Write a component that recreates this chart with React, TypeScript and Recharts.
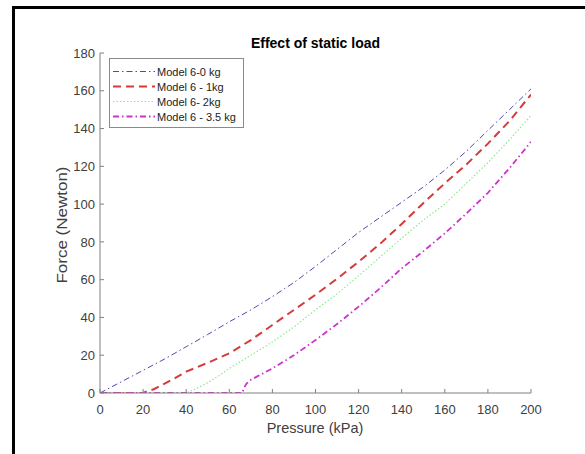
import React from 'react';
import { LineChart, Line, XAxis, YAxis } from 'recharts';

const xTicks = [0, 20, 40, 60, 80, 100, 120, 140, 160, 180, 200];
const yTicks = [0, 20, 40, 60, 80, 100, 120, 140, 160, 180];

const seriesNames = ['Model 6-0 kg', 'Model 6 - 1kg', 'Model 6- 2kg', 'Model 6 - 3.5 kg'];

const p0kg = [0, 10, 20, 30, 40, 50, 60, 70, 80, 90, 100, 110, 120, 130, 140, 150, 160, 170, 180, 190, 200];
const f0kg = [0, 6, 12, 18, 24.5, 31, 37.7, 44, 51, 58.5, 67, 76, 85, 93, 101, 109, 118, 128, 139, 150, 161];

const p1kg = [0, 20, 22, 25, 30, 35, 40, 50, 60, 70, 80, 90, 100, 110, 120, 130, 140, 150, 160, 170, 180, 190, 200];
const f1kg = [0, 0, 1, 2, 5, 8, 11.3, 16, 21, 28, 36, 44, 52, 60.5, 69.5, 79, 89.5, 100.5, 111, 121, 132, 144, 158];

const p2kg = [0, 40, 45, 50, 55, 60, 70, 80, 90, 100, 110, 120, 130, 140, 150, 160, 170, 180, 190, 200];
const f2kg = [0, 0, 2.5, 5.5, 9, 13, 20, 27, 35, 44, 52.5, 62, 72, 82, 91.5, 100, 111, 122, 134, 147];

const p35kg = [0, 66, 67, 68, 70, 75, 80, 90, 100, 110, 120, 130, 140, 150, 160, 170, 180, 190, 200];
const f35kg = [0, 0, 3, 5, 7, 10, 13, 20, 28, 36.5, 45.7, 55.5, 66, 75, 84.5, 95, 106, 119, 133];

const toData = (ps: number[], fs: number[]) => ps.map((p, i) => ({ p, f: fs[i] }));

const styles = [
  { color: '#4b4bb0', dash: '6 3 1.5 3', width: 1 },
  { color: '#d63a3a', dash: '8 5', width: 2 },
  { color: '#8fe88f', dash: '1.5 2', width: 1.2 },
  { color: '#cc33cc', dash: '6 3 1.5 3', width: 1.8 },
];

const datasets = [toData(p0kg, f0kg), toData(p1kg, f1kg), toData(p2kg, f2kg), toData(p35kg, f35kg)];

const FONT = '"Liberation Sans", Arial, sans-serif';
const AXIS = '#808080';
const LABEL = '#404040';
const TL = 4;

const BottomTick = (props: any) => {
  const { x, y, payload } = props;
  return (
    <g>
      <line x1={x} x2={x} y1={y} y2={y - TL} stroke={AXIS} />
      <text x={x} y={y + 21} textAnchor="middle" fontSize={13} fill={LABEL} fontFamily={FONT}>
        {payload.value}
      </text>
    </g>
  );
};
const LeftTick = (props: any) => {
  const { x, y, payload } = props;
  return (
    <g>
      <line x1={x} x2={x + TL} y1={y} y2={y} stroke={AXIS} />
      <text x={x - 5} y={y + 4.7} textAnchor="end" fontSize={13} fill={LABEL} fontFamily={FONT}>
        {payload.value}
      </text>
    </g>
  );
};
const TopTick = (props: any) => {
  const { x, y } = props;
  return <line x1={x} x2={x} y1={y} y2={y + TL} stroke={AXIS} />;
};
const RightTick = (props: any) => {
  const { x, y } = props;
  return <line x1={x} x2={x - TL} y1={y} y2={y} stroke={AXIS} />;
};

export default function App() {
  return (
    <div style={{ position: 'absolute', left: 0, top: 0, width: 585, height: 454, background: '#fff', overflow: 'hidden' }}>
      <div
        style={{
          position: 'absolute',
          left: 12,
          top: 6,
          width: 620,
          height: 500,
          borderTop: '3px solid #000',
          borderLeft: '3px solid #000',
        }}
      />
      <div style={{ position: 'absolute', left: 0, top: 0 }}>
        <LineChart width={585} height={454} margin={{ top: 53, right: 54, left: 60, bottom: 21 }}>
          <XAxis
            xAxisId="b"
            dataKey="p"
            type="number"
            domain={[0, 200]}
            ticks={xTicks}
            height={40}
            tickSize={0}
            tickMargin={0}
            axisLine={{ stroke: AXIS }}
            tick={<BottomTick />}
            interval={0}
            allowDataOverflow
          />
          <XAxis
            xAxisId="t"
            orientation="top"
            dataKey="p"
            type="number"
            domain={[0, 200]}
            ticks={xTicks}
            height={0}
            tickSize={0}
            tickMargin={0}
            axisLine={{ stroke: AXIS }}
            tick={<TopTick />}
            interval={0}
            allowDataOverflow
          />
          <YAxis
            yAxisId="l"
            type="number"
            domain={[0, 180]}
            ticks={yTicks}
            width={40}
            tickSize={0}
            tickMargin={0}
            axisLine={{ stroke: AXIS }}
            tick={<LeftTick />}
            interval={0}
            allowDataOverflow
          />
          <YAxis
            yAxisId="r"
            orientation="right"
            type="number"
            domain={[0, 180]}
            ticks={yTicks}
            width={0}
            tickSize={0}
            tickMargin={0}
            axisLine={{ stroke: AXIS }}
            tick={<RightTick />}
            interval={0}
            allowDataOverflow
          />
          {datasets.map((d, i) => (
            <Line
              key={seriesNames[i]}
              xAxisId="b"
              yAxisId="l"
              data={d}
              dataKey="f"
              name={seriesNames[i]}
              type="linear"
              stroke={styles[i].color}
              strokeWidth={styles[i].width}
              strokeDasharray={styles[i].dash}
              dot={false}
              activeDot={false}
              isAnimationActive={false}
            />
          ))}
        </LineChart>
      </div>
      <svg width={585} height={454} style={{ position: 'absolute', left: 0, top: 0, pointerEvents: 'none' }}>
        <text x={315.5} y={48} textAnchor="middle" fontSize={14} fontWeight="bold" fill="#000" fontFamily={FONT}>
          Effect of static load
        </text>
        <text x={315} y={433} textAnchor="middle" fontSize={14.5} fill={LABEL} fontFamily={FONT}>
          Pressure (kPa)
        </text>
        <text
          x={0}
          y={0}
          transform="translate(67,225) rotate(-90)"
          textAnchor="middle"
          fontSize={14.5}
          fill={LABEL}
          fontFamily={FONT}
          textLength={117}
          lengthAdjust="spacingAndGlyphs"
        >
          Force (Newton)
        </text>
      </svg>
      <div
        style={{
          position: 'absolute',
          left: 109,
          top: 58,
          width: 135,
          height: 70,
          boxSizing: 'border-box',
          border: '1px solid #8a8a8a',
          background: '#fff',
          paddingTop: 5,
          fontFamily: FONT,
          fontSize: 11,
          color: '#222',
        }}
      >
        {seriesNames.map((n, i) => (
          <div key={n} style={{ height: 15, display: 'flex', alignItems: 'center' }}>
            <svg width={42} height={15} style={{ marginLeft: 3, display: 'block' }}>
              <line
                x1={0}
                x2={42}
                y1={7.5}
                y2={7.5}
                stroke={styles[i].color}
                strokeWidth={styles[i].width}
                strokeDasharray={styles[i].dash}
              />
            </svg>
            <span style={{ marginLeft: 2, whiteSpace: 'nowrap' }}>{n}</span>
          </div>
        ))}
      </div>
    </div>
  );
}
